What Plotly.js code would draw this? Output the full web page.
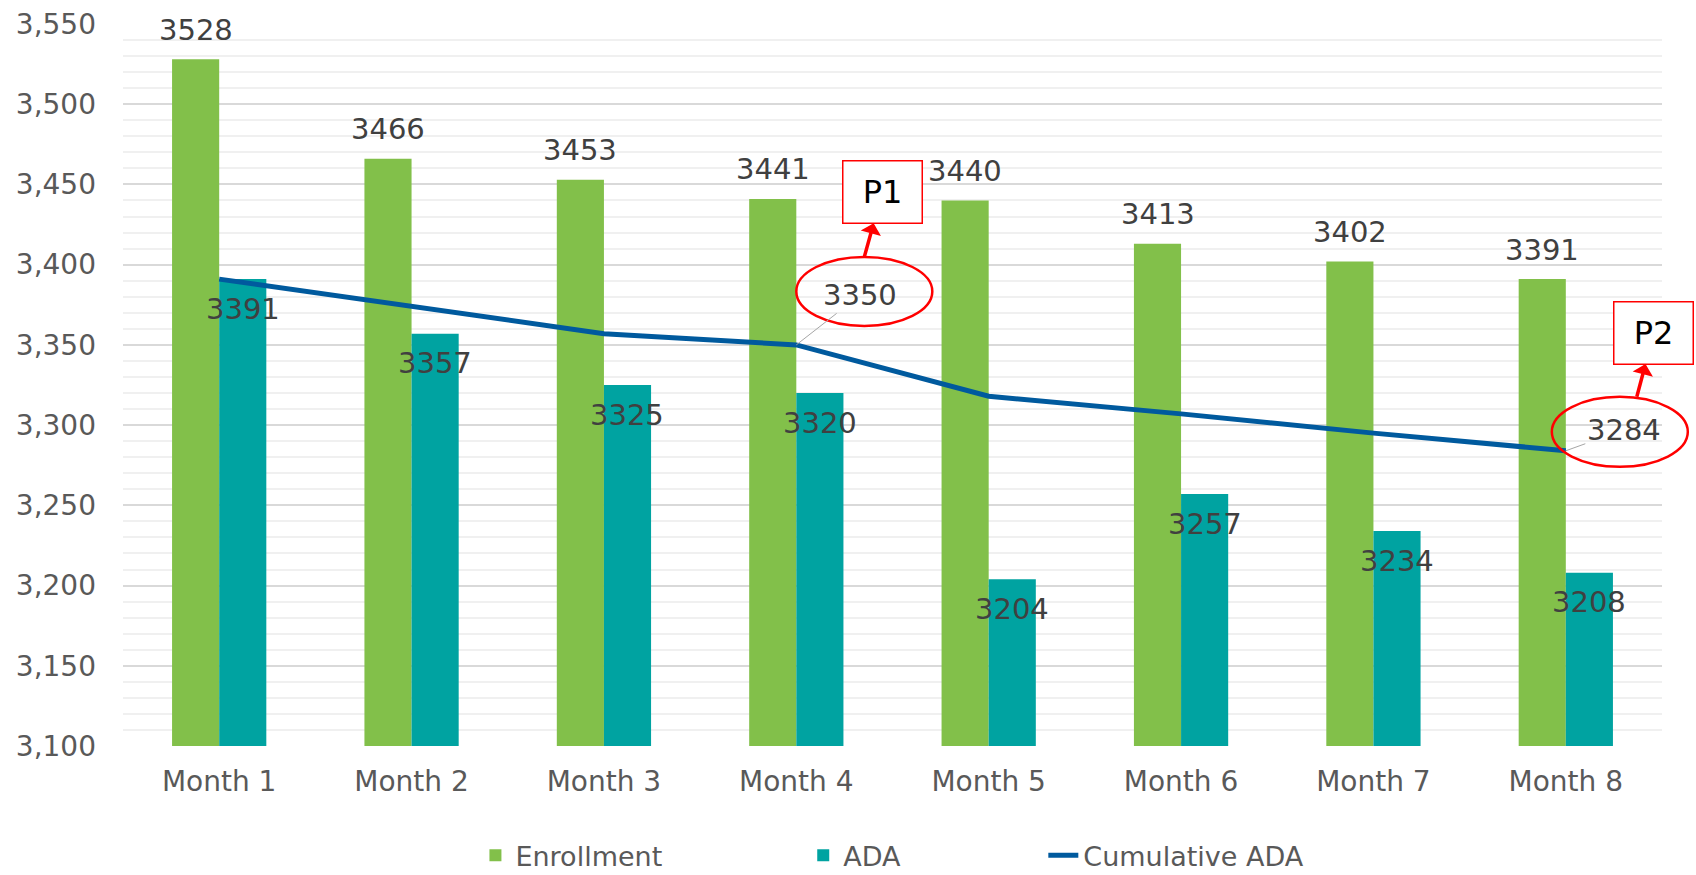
<!DOCTYPE html>
<html>
<head>
<meta charset="utf-8">
<script src="https://cdn.plot.ly/plotly-3.0.1.min.js"></script>
<style>html,body{margin:0;padding:0;background:#fff;}#chart{width:1696px;height:875px;}</style>
</head>
<body>
<div id="chart"></div>
<script>
// ---- data ----
const months = ['Month 1', 'Month 2', 'Month 3', 'Month 4', 'Month 5', 'Month 6', 'Month 7', 'Month 8'];
const enrollment = [3528, 3466, 3453, 3441, 3440, 3413, 3402, 3391];
const ada = [3391, 3357, 3325, 3320, 3204, 3257, 3234, 3208];
const cumulativeAda = [3391, 3374, 3357, 3350, 3318, 3307, 3295, 3284];
const calloutIndex = [3, 7];
const calloutText = ['P1', 'P2'];

// ---- styles ----
const FONT = 'DejaVu Sans, Verdana, sans-serif';
const FS = 28;
const LFS = 29;
const green = '#82C04A', teal = '#00A3A1', blue = '#005A9E';
const labelColor = '#404040', axisColor = '#595959';
const barHalf = 23.5;
// pixel offsets for callouts (label, ellipse, box)
const calloutStyle = [
  {lax: 64, lay: -50, ell: [0, 136, 19, 88], anc: [68, 88], box: [18, -65]},
  {lax: 58, lay: -21, ell: [-14, 122, -16, 54], anc: [71, 54], box: [17, -64]}
];

const traces = [
  {type: 'bar', name: 'Enrollment', x: months, y: enrollment, marker: {color: green}, legend: 'legend', hoverinfo: 'x+y'},
  {type: 'bar', name: 'ADA', x: months, y: ada, marker: {color: teal}, legend: 'legend2', hoverinfo: 'x+y'},
  {type: 'scatter', mode: 'lines', name: 'Cumulative ADA', x: months, y: cumulativeAda,
   line: {color: blue, width: 5}, legend: 'legend3'}
];

const annotations = [];
months.forEach((m, i) => {
  annotations.push({x: m, y: enrollment[i], xref: 'x', yref: 'y', text: String(enrollment[i]), showarrow: false,
    xshift: -barHalf, yshift: 29.5, yanchor: 'middle', font: {family: FONT, size: LFS, color: labelColor}});
  annotations.push({x: m, y: ada[i], xref: 'x', yref: 'y', text: String(ada[i]), showarrow: false,
    xshift: barHalf, yshift: -29.5, yanchor: 'middle', font: {family: FONT, size: LFS, color: labelColor}});
});
const shapes = [];
calloutIndex.forEach((idx, k) => {
  const s = calloutStyle[k];
  annotations.push({x: months[idx], y: cumulativeAda[idx], xref: 'x', yref: 'y', text: String(cumulativeAda[idx]),
    showarrow: true, arrowhead: 0, arrowwidth: 1, arrowcolor: '#A6A6A6', ax: s.lax, ay: s.lay, standoff: 0,
    font: {family: FONT, size: LFS, color: labelColor}});
  // paper-referenced in x so the ellipse may extend past the plot edge like the original
  shapes.push({type: 'circle', xref: 'paper', yref: 'y', xsizemode: 'pixel', ysizemode: 'pixel',
    xanchor: (idx + 0.5) / months.length, yanchor: cumulativeAda[idx],
    x0: s.ell[0], x1: s.ell[1], y0: s.ell[2], y1: s.ell[3],
    line: {color: '#FF0000', width: 2.5}, layer: 'above'});
  annotations.push({x: months[idx], y: cumulativeAda[idx], xref: 'x', yref: 'y', text: calloutText[k],
    xshift: s.anc[0], yshift: s.anc[1], showarrow: true, arrowside: 'start', arrowhead: 2, arrowsize: 0.8,
    arrowwidth: 3.5, arrowcolor: '#FF0000', ax: s.box[0], ay: s.box[1], standoff: 0, startstandoff: 0,
    width: 78, height: 61, bgcolor: '#FFFFFF', bordercolor: '#FF0000', borderwidth: 1.5, borderpad: 0,
    font: {family: FONT, size: 32, color: '#000000'}});
});

const legendBase = {orientation: 'h', yanchor: 'middle', y: -0.152, xanchor: 'left',
  font: {family: FONT, size: 27, color: axisColor}, bgcolor: 'rgba(0,0,0,0)'};

const layout = {
  width: 1696, height: 875,
  margin: {l: 123, r: 34, t: 24, b: 129, autoexpand: false},
  paper_bgcolor: '#FFFFFF', plot_bgcolor: '#FFFFFF',
  font: {family: FONT, size: FS, color: axisColor},
  barmode: 'group', bargap: 0.51, bargroupgap: 0,
  showlegend: true,
  legend: Object.assign({}, legendBase, {x: 0.229}),
  legend2: Object.assign({}, legendBase, {x: 0.442}),
  legend3: Object.assign({}, legendBase, {x: 0.598}),
  xaxis: {type: 'category', range: [-0.5, months.length - 0.5], autorange: false, showgrid: false,
    zeroline: false, showline: false, ticks: '', ticklabelstandoff: 16,
    tickfont: {family: FONT, size: FS, color: axisColor}},
  yaxis: {range: [3100, 3550], autorange: false, dtick: 50, tick0: 3100, tickformat: ',', showline: false, zeroline: false,
    gridcolor: '#D9D9D9', gridwidth: 1.5, ticks: '', ticklabelstandoff: 26,
    tickfont: {family: FONT, size: FS, color: axisColor},
    minor: {dtick: 10, showgrid: true, gridcolor: '#F0F0F0', gridwidth: 1.5}},
  annotations: annotations,
  shapes: shapes
};

Plotly.newPlot('chart', traces, layout, {displayModeBar: false, responsive: false});
</script>
</body>
</html>
